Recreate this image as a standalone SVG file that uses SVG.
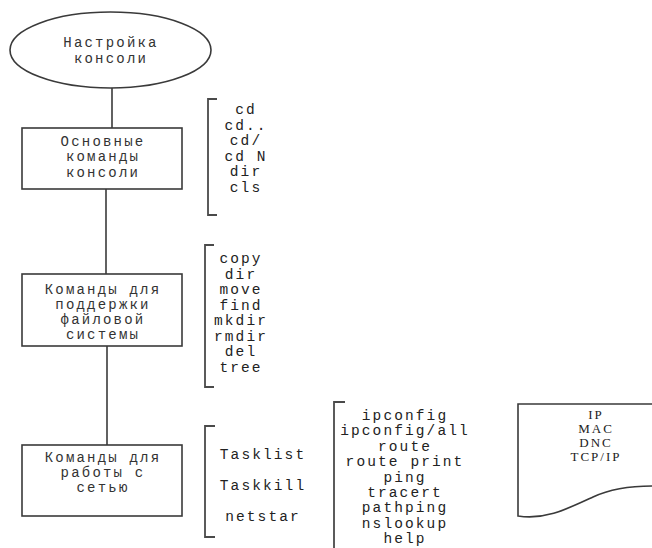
<svg xmlns="http://www.w3.org/2000/svg" width="652" height="548" viewBox="0 0 652 548">
<style>
.shape{fill:#fff;stroke:#3a3a3a;stroke-width:1.6}
.br{fill:none;stroke:#4a4a4a;stroke-width:1.8}
.conn{fill:none;stroke:#3a3a3a;stroke-width:1.6}
.ru{font-family:"Liberation Mono","DejaVu Sans Mono",monospace;font-size:14px;letter-spacing:2.2px;fill:#333;text-anchor:middle}
.cmd{font-family:"Liberation Mono","DejaVu Sans Mono",monospace;font-size:14.5px;letter-spacing:2.1px;fill:#222;text-anchor:middle}
.doc{font-family:"Liberation Serif","Times New Roman",serif;font-size:13px;letter-spacing:2px;fill:#222;text-anchor:middle}
</style>
<g id="connectors">
<line class="conn" x1="112" y1="88" x2="112" y2="128"/>
<line class="conn" x1="106" y1="189" x2="106" y2="274"/>
<line class="conn" x1="107" y1="346" x2="107" y2="445"/>
</g>
<g id="n-setup">
<ellipse class="shape" cx="110.5" cy="50" rx="100.5" ry="38"/>
<text class="ru" x="111" y="47">Настройка</text>
<text class="ru" x="111" y="63">консоли</text>
</g>
<g id="n-basic">
<rect class="shape" x="22" y="128" width="160" height="61"/>
<text class="ru" x="103" y="146">Основные</text>
<text class="ru" x="103" y="161">команды</text>
<text class="ru" x="103" y="177">консоли</text>
</g>
<g id="n-basic-cmds">
<path class="br" d="M217,99 H208 V215 H217"/>
<text class="cmd" x="246" y="114">cd</text>
<text class="cmd" x="246" y="129.5">cd..</text>
<text class="cmd" x="246" y="145">cd/</text>
<text class="cmd" x="246" y="160.5">cd N</text>
<text class="cmd" x="246" y="176">dir</text>
<text class="cmd" x="246" y="191.5">cls</text>
</g>
<g id="n-fs">
<rect class="shape" x="22" y="274" width="160" height="72"/>
<text class="ru" x="103" y="294">Команды для</text>
<text class="ru" x="103" y="309">поддержки</text>
<text class="ru" x="103" y="324">файловой</text>
<text class="ru" x="103" y="339">системы</text>
</g>
<g id="n-fs-cmds">
<path class="br" d="M214,245 H205 V387 H214"/>
<text class="cmd" x="241" y="263">copy</text>
<text class="cmd" x="241" y="278.5">dir</text>
<text class="cmd" x="241" y="294">move</text>
<text class="cmd" x="241" y="309.5">find</text>
<text class="cmd" x="241" y="325">mkdir</text>
<text class="cmd" x="241" y="340.5">rmdir</text>
<text class="cmd" x="241" y="356">del</text>
<text class="cmd" x="241" y="371.5">tree</text>
</g>
<g id="n-net">
<rect class="shape" x="22" y="445" width="160" height="71"/>
<text class="ru" x="103" y="462">Команды для</text>
<text class="ru" x="103" y="477">работы с</text>
<text class="ru" x="103" y="492">сетью</text>
</g>
<g id="n-net-tasks">
<path class="br" d="M215,426 H205 V537 H215"/>
<text class="cmd" x="263" y="459">Tasklist</text>
<text class="cmd" x="263" y="490">Taskkill</text>
<text class="cmd" x="263" y="521">netstar</text>
</g>
<g id="n-net-cmds">
<path class="br" d="M345,402 H334 V548"/>
<text class="cmd" x="405" y="420">ipconfig</text>
<text class="cmd" x="405" y="435.4">ipconfig/all</text>
<text class="cmd" x="405" y="450.8">route</text>
<text class="cmd" x="405" y="466.2">route print</text>
<text class="cmd" x="405" y="481.6">ping</text>
<text class="cmd" x="405" y="497">tracert</text>
<text class="cmd" x="405" y="512.4">pathping</text>
<text class="cmd" x="405" y="527.6">nslookup</text>
<text class="cmd" x="405" y="543.4">help</text>
</g>
<g id="n-protocols">
<path class="shape" d="M652,404 H518 V516 C545,520 565,510 593,497 C610,489 630,486 652,486"/>
<text class="doc" x="596" y="419">IP</text>
<text class="doc" x="596" y="433">MAC</text>
<text class="doc" x="596" y="447">DNC</text>
<text class="doc" x="596" y="461">TCP/IP</text>
</g>
</svg>
